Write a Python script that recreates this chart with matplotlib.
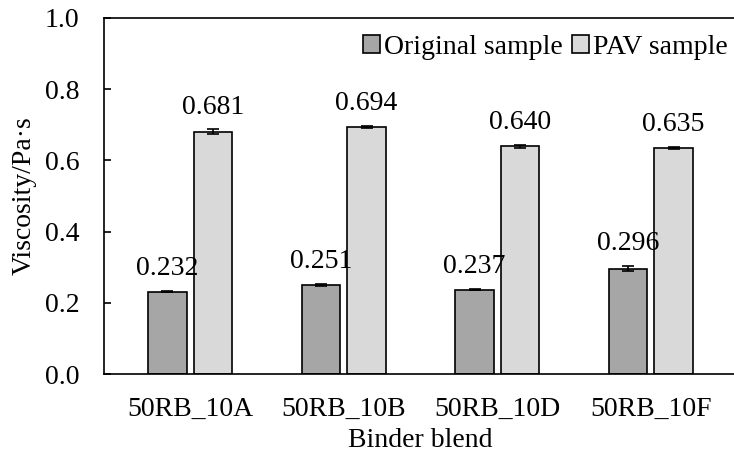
import numpy as np
import matplotlib
matplotlib.use('Agg')
import matplotlib.pyplot as plt

plt.rcParams['font.family'] = ['Liberation Serif', 'DejaVu Serif']

# 数据
blends = ['50RB_10A', '50RB_10B', '50RB_10D', '50RB_10F']
original = [0.232, 0.251, 0.237, 0.296]
original_err = [0.002, 0.003, 0.002, 0.007]
pav = [0.681, 0.694, 0.640, 0.635]
pav_err = [0.006, 0.002, 0.004, 0.003]

fs = 20

fig = plt.figure(figsize=(7.34, 4.58), dpi=100)
ax = fig.add_axes([0.142, 0.183, 0.862, 0.778])

x = np.arange(len(blends))
w = 0.25
off = 0.148

ax.bar(x - off, original, w, color='#A6A6A6', edgecolor='black', linewidth=1.2,
       label='Original sample', zorder=2)
ax.bar(x + off, pav, w, color='#D9D9D9', edgecolor='black', linewidth=1.2,
       label='PAV sample', zorder=2)
ax.errorbar(x - off, original, yerr=original_err, fmt='none', ecolor='black',
            elinewidth=1.2, capsize=4, capthick=1.2, zorder=3)
ax.errorbar(x + off, pav, yerr=pav_err, fmt='none', ecolor='black',
            elinewidth=1.2, capsize=4, capthick=1.2, zorder=3)

# 数值标签
for xi, v, e in zip(x - off, original, original_err):
    ax.annotate(f'{v:.3f}', (xi, v + e), xytext=(0, 7), textcoords='offset points',
                ha='center', va='bottom', fontsize=fs)
for xi, v, e in zip(x + off, pav, pav_err):
    ax.annotate(f'{v:.3f}', (xi, v + e), xytext=(0, 7), textcoords='offset points',
                ha='center', va='bottom', fontsize=fs)

ax.set_xlim(-0.56, 3.56)
ax.set_ylim(0, 1.0)
ticks = np.arange(0, 1.01, 0.2)
ax.set_yticks(ticks)
ax.set_yticklabels([f'{t:.1f}' for t in ticks])
ax.set_xticks(x)
ax.set_xticklabels(blends)
ax.tick_params(axis='x', length=0, labelsize=fs, pad=16)
ax.tick_params(axis='y', direction='in', length=5, width=1.2, labelsize=fs, pad=18)
for s in ['left', 'bottom', 'top', 'right']:
    ax.spines[s].set_linewidth(1.2)

ax.set_xlabel('Binder blend', fontsize=fs, labelpad=5)
ax.set_ylabel('Viscosity/Pa·s', fontsize=fs, labelpad=6)

ax.legend(loc='upper right', bbox_to_anchor=(1.012, 1.0), ncol=2, frameon=False,
          fontsize=fs, handlelength=0.6, handleheight=0.6, handletextpad=0.15,
          columnspacing=0.35, borderaxespad=0.2)

plt.savefig('out.png', dpi=100)
